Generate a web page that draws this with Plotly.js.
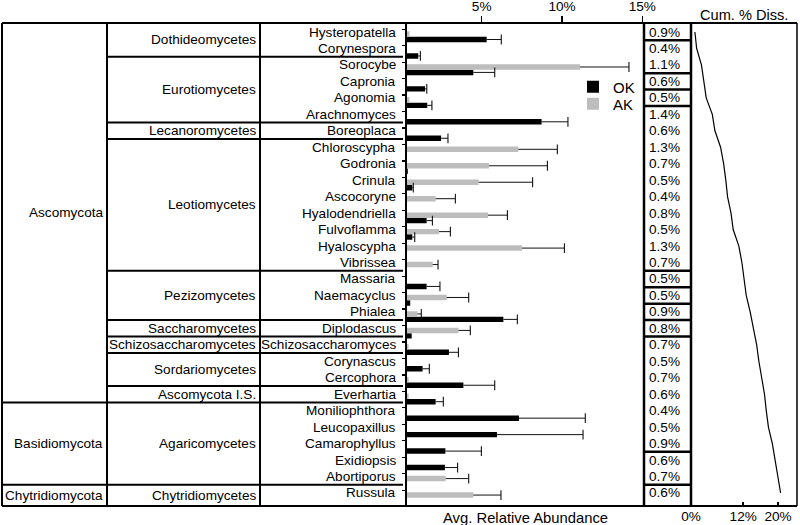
<!DOCTYPE html>
<html>
<head>
<meta charset="utf-8">
<script src="https://cdn.plot.ly/plotly-3.0.1.min.js"></script>
<style>
html,body{margin:0;padding:0;background:#fff}
#chart{width:800px;height:525px}
</style>
</head>
<body>
<div id="chart"></div>
<script>
// ---------------- DATA ----------------
const genera = ['Hysteropatella','Corynespora','Sorocybe','Capronia','Agonomia','Arachnomyces','Boreoplaca',
  'Chloroscypha','Godronia','Crinula','Ascocoryne','Hyalodendriella','Fulvoflamma','Hyaloscypha','Vibrissea',
  'Massaria','Naemacyclus','Phialea','Diplodascus','Schizosaccharomyces','Corynascus','Cercophora','Everhartia',
  'Moniliophthora','Leucopaxillus','Camarophyllus','Exidiopsis','Abortiporus','Russula'];
const okValues = [5.31,1.05,4.48,1.47,1.61,8.73,2.47,0,0.40,0.68,0,1.57,0.68,0,0,
  1.57,0.55,6.35,0.64,2.96,1.32,3.86,2.13,7.32,5.95,2.74,2.71,0,0];
const okErrors = [0.91,0.13,1.33,0.11,0.29,1.64,0.43,0,0,0.06,0,0.36,0.15,0,0,
  0.83,0,0.87,0,0.59,0.42,1.95,0.48,4.13,5.36,2.24,0.79,0,0];
const akValues = [0.50,0,11.12,0,0.50,0,0,7.28,5.45,4.81,2.13,5.39,2.34,7.51,1.95,
  0,2.82,0.99,3.55,0.45,0,0.45,0.45,0,0,0,0,2.76,4.48];
const akErrors = [0,0,3.05,0,0,0,0,2.43,3.64,3.36,1.23,1.21,0.71,2.64,0.33,
  0,1.37,0.25,0.74,0,0,0,0,0,0,0,0,1.43,1.72];
const pctDiss = [0.9,0.4,1.1,0.6,0.5,1.4,0.6,1.3,0.7,0.5,0.4,0.8,0.5,1.3,0.7,
  0.5,0.5,0.9,0.8,0.7,0.5,0.7,0.6,0.4,0.5,0.9,0.6,0.7,0.6];
const cumDiss = [0.9,1.3,2.4,3.0,3.5,4.9,5.5,6.8,7.5,8.0,8.4,9.2,9.7,11.0,11.7,
  12.2,12.7,13.6,14.4,15.1,15.6,16.3,16.9,17.3,17.8,18.7,19.3,20.0,20.6];
const phylumNames = ['Ascomycota','Basidiomycota','Chytridiomycota'];
const phylumCounts = [23,5,1];
const classNames = ['Dothideomycetes','Eurotiomycetes','Lecanoromycetes','Leotiomycetes','Pezizomycetes',
  'Saccharomycetes','Schizosaccharomycetes','Sordariomycetes','Ascomycota I.S.','Agaricomycetes','Chytridiomycetes'];
const classCounts = [2,4,1,8,3,1,1,2,1,5,1];
const pctBoxCounts = [1,2,1,1,10,1,1,1,1,7,2,1];
const abundanceTickVals = [5,10,15];
const abundanceTickText = ['5%','10%','15%'];
const cumTickVals = [0,12,20];
const cumTickText = ['0%','12%','20%'];
const seriesNames = ['OK','AK'];

// ---------------- LAYOUT GEOMETRY (pixels) ----------------
const W = 800, H = 525;
const frameTop = 23, frameBottom = 506, frameLeft = 2, frameRight = 797;
const colPhylum = 107, colClass = 260, sepEnd = 403;
const barAxisX = 406.5, barRight = 642.5, barZeroPx = 401.4, pxPerPct = 16.06;
const pctLeft = 644, pctRight = 691;
const cumLeft = 691, pxPerCum = 4.35;
const rowTop = 32, rowPitch = 16.464;
const FONT = 'Liberation Sans, Arial, Helvetica, sans-serif';

const px = x => x / W;
const py = y => 1 - y / H;
const yMin = (frameTop - rowTop) / rowPitch;
const yMax = (frameBottom - rowTop) / rowPitch;
const rows = genera.map((_, i) => i);

// ---------------- TRACES ----------------
const okOffset = 0.29, akOffset = -0.04, barW = 0.33;

function errorTraces(vals, errs, shift) {
  const lx = [], ly = [], cx = [], cy = [];
  vals.forEach((v, i) => {
    if (errs[i] > 0) {
      lx.push(v, v + errs[i], null);
      ly.push(i + shift, i + shift, null);
      cx.push(v + errs[i]);
      cy.push(i + shift);
    }
  });
  return [
    {type:'scatter', mode:'lines', x:lx, y:ly, xaxis:'x', yaxis:'y', showlegend:false,
     hoverinfo:'skip', line:{color:'#111', width:1}},
    {type:'scatter', mode:'markers', x:cx, y:cy, xaxis:'x', yaxis:'y', showlegend:false,
     hoverinfo:'skip', marker:{symbol:'line-ns-open', size:7, color:'#111', line:{color:'#111', width:1.1}}}
  ];
}

const data = [
  {type:'bar', orientation:'h', name:seriesNames[0], x:okValues, y:rows, offset:okOffset, width:barW,
   marker:{color:'#000000', line:{width:0}}, xaxis:'x', yaxis:'y', legend:'legend', hoverinfo:'skip'},
  {type:'bar', orientation:'h', name:seriesNames[1], x:akValues, y:rows, offset:akOffset, width:barW,
   marker:{color:'#bdbdbd', line:{width:0}}, xaxis:'x', yaxis:'y', legend:'legend2', hoverinfo:'skip'},
  ...errorTraces(akValues, akErrors, akOffset + barW / 2),
  ...errorTraces(okValues, okErrors, okOffset + barW / 2),
  {type:'scatter', mode:'lines', x:cumDiss, y:rows, xaxis:'x2', yaxis:'y', showlegend:false,
   hoverinfo:'skip', line:{color:'#000', width:1.2}}
];

// ---------------- SHAPES (table frame) ----------------
const shapes = [];
function hLinePaper(x0, x1, y, w) {
  shapes.push({type:'line', xref:'paper', yref:'paper', x0:px(x0), x1:px(x1), y0:py(y), y1:py(y),
    line:{color:'#000', width:w || 2}});
}
function vLinePaper(x, y0, y1, w) {
  shapes.push({type:'line', xref:'paper', yref:'paper', x0:px(x), x1:px(x), y0:py(y0), y1:py(y1),
    line:{color:'#000', width:w || 2}});
}
function hLineData(x0, x1, yv, w) {
  shapes.push({type:'line', xref:'paper', yref:'y', x0:px(x0), x1:px(x1), y0:yv, y1:yv,
    line:{color:'#000', width:w || 2}});
}
hLinePaper(frameLeft, frameRight, frameTop);
hLinePaper(frameLeft, frameRight, frameBottom);
vLinePaper(frameLeft, frameTop, frameBottom);
vLinePaper(colPhylum, frameTop, frameBottom);
vLinePaper(colClass, frameTop, frameBottom);
vLinePaper(pctLeft, frameTop, frameBottom, 2.5);
vLinePaper(pctRight, frameTop, frameBottom, 2.5);
vLinePaper(frameRight, frameTop, frameBottom, 1.5);

function boundaries(counts) {
  const b = []; let s = 0;
  counts.forEach(c => { b.push([s, s + c - 1]); s += c; });
  return b;
}
const classGroups = boundaries(classCounts);
const phylumGroups = boundaries(phylumCounts);
const pctGroups = boundaries(pctBoxCounts);
const phylumEnds = phylumGroups.map(g => g[1]);

classGroups.slice(0, -1).forEach(g => {
  const start = phylumEnds.includes(g[1]) ? frameLeft : colPhylum;
  hLineData(start, sepEnd, g[1] + 0.5);
});
pctGroups.slice(0, -1).forEach(g => hLineData(pctLeft, pctRight, g[1] + 0.5, 2.5));

// ---------------- ANNOTATIONS ----------------
const ann = [];
const f = (size) => ({family:FONT, size:size, color:'#000'});
function groupCenter(g) {
  const top = g[0] === 0 ? yMin : g[0] - 0.5;
  const bot = g[1] === genera.length - 1 ? yMax : g[1] + 0.5;
  return (top + bot) / 2;
}
genera.forEach((g, i) => ann.push({text:g, xref:'paper', yref:'y', x:px(397.5), y:i,
  xanchor:'right', yanchor:'middle', showarrow:false, font:f(13.6)}));
classNames.forEach((c, k) => ann.push({text:c, xref:'paper', yref:'y', x:px(257.5), y:groupCenter(classGroups[k]),
  xanchor:'right', yanchor:'middle', showarrow:false, font:f(13.6)}));
phylumNames.forEach((p, k) => ann.push({text:p, xref:'paper', yref:'y', x:px(104.5), y:groupCenter(phylumGroups[k]),
  xanchor:'right', yanchor:'middle', showarrow:false, font:f(13.6)}));
pctDiss.forEach((v, i) => ann.push({text:v.toFixed(1) + '%', xref:'paper', yref:'y', x:px(647), y:i,
  xanchor:'left', yanchor:'middle', showarrow:false, font:f(13.6)}));
ann.push({text:'Avg. Relative Abundance', xref:'paper', yref:'paper', x:px(525), y:py(518),
  xanchor:'center', yanchor:'middle', showarrow:false, font:f(14.8)});
ann.push({text:'Cum. % Diss.', xref:'paper', yref:'paper', x:px(743.5), y:py(15),
  xanchor:'center', yanchor:'middle', showarrow:false, font:f(14.6)});

// ---------------- LAYOUT ----------------
const layout = {
  width:W, height:H,
  margin:{l:0, r:0, t:0, b:0, pad:0},
  paper_bgcolor:'#fff', plot_bgcolor:'rgba(0,0,0,0)',
  font:{family:FONT, color:'#000'},
  barmode:'overlay',
  showlegend:true,
  xaxis:{
    domain:[px(barAxisX), px(barRight)],
    range:[(barAxisX - barZeroPx) / pxPerPct, (barRight - barZeroPx) / pxPerPct],
    anchor:'y', side:'top', showline:false, showgrid:false, zeroline:false,
    ticks:'outside', ticklen:6, tickwidth:1.5, tickcolor:'#000',
    tickvals:abundanceTickVals, ticktext:abundanceTickText, tickfont:f(13.6), fixedrange:true
  },
  xaxis2:{
    domain:[px(cumLeft), px(frameRight)],
    range:[0, (frameRight - cumLeft) / pxPerCum],
    anchor:'y', side:'bottom', showline:false, showgrid:false, zeroline:false,
    ticks:'inside', ticklen:4, tickwidth:1.5, tickcolor:'#000',
    tickvals:cumTickVals, ticktext:cumTickText, tickfont:f(13.6), fixedrange:true
  },
  yaxis:{
    domain:[py(frameBottom), py(frameTop)],
    range:[yMax, yMin],
    anchor:'x', showline:true, linecolor:'#000', linewidth:1.5,
    ticks:'outside', ticklen:3, tickwidth:1.2, tickcolor:'#000',
    tickvals:rows.map(i => i - 0.17), showticklabels:false,
    showgrid:false, zeroline:false, fixedrange:true
  },
  legend:{x:px(573), y:py(87), xanchor:'left', yanchor:'middle', bgcolor:'rgba(0,0,0,0)',
    borderwidth:0, font:f(15)},
  legend2:{x:px(573), y:py(104), xanchor:'left', yanchor:'middle', bgcolor:'rgba(0,0,0,0)',
    borderwidth:0, font:f(15)},
  shapes:shapes,
  annotations:ann
};

Plotly.newPlot('chart', data, layout, {displayModeBar:false, staticPlot:true});
</script>
</body>
</html>
